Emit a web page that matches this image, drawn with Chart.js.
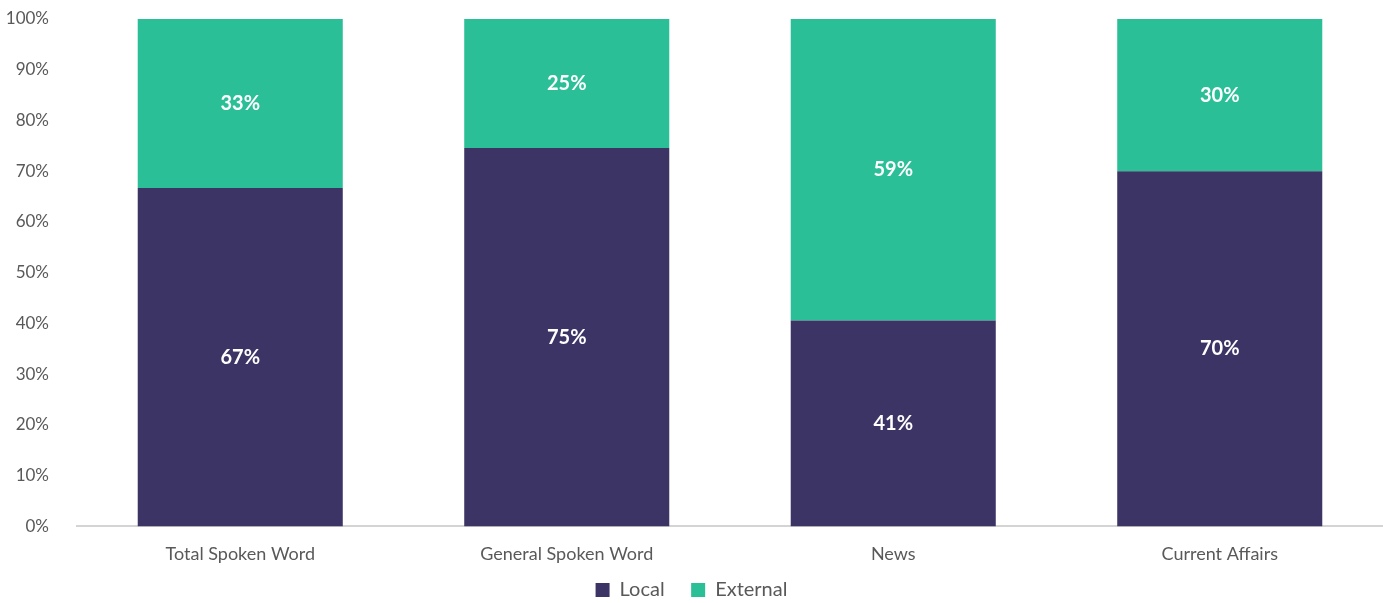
<!DOCTYPE html>
<html>
<head>
<meta charset="utf-8">
<script src="https://cdn.jsdelivr.net/npm/chart.js@4/dist/chart.umd.min.js"></script>
<style>
  html, body { margin: 0; padding: 0; background: #fff; }
  #wrap { width: 1383px; height: 603px; position: relative; }
</style>
</head>
<body>
<div id="wrap"><canvas id="chart"></canvas></div>
<script>
const categories = ["Total Spoken Word", "General Spoken Word", "News", "Current Affairs"];
const localValues = [66.7, 74.6, 40.6, 70.0];
const externalValues = [33.3, 25.4, 59.4, 30.0];
const yTicks = [0, 10, 20, 30, 40, 50, 60, 70, 80, 90, 100];

// draws the % inside each segment
const segmentLabels = {
  id: "segmentLabels",
  afterDatasetsDraw(chart) {
    const ctx = chart.ctx;
    ctx.save();
    ctx.fillStyle = "#ffffff";
    ctx.font = "bold 20px Lato, 'Open Sans', sans-serif";
    ctx.textAlign = "center";
    ctx.textBaseline = "middle";
    chart.data.datasets.forEach((ds, i) => {
      chart.getDatasetMeta(i).data.forEach((bar, j) => {
        const p = bar.getProps(["x", "y", "base"], true);
        ctx.fillText(Math.round(ds.data[j]) + "%", p.x, (p.y + p.base) / 2);
      });
    });
    ctx.restore();
  }
};

const ctx = document.getElementById("chart").getContext("2d");
new Chart(ctx, {
  type: "bar",
  data: {
    labels: categories,
    datasets: [
      {
        label: "Local",
        data: localValues,
        backgroundColor: "#3d3466",
        categoryPercentage: 1,
        barPercentage: 0.628
      },
      {
        label: "External",
        data: externalValues,
        backgroundColor: "#2bbf98",
        categoryPercentage: 1,
        barPercentage: 0.628
      }
    ]
  },
  options: {
    responsive: true,
    maintainAspectRatio: false,
    animation: false,
    layout: { padding: { top: 19, right: 0, bottom: -7, left: 0 } },
    scales: {
      x: {
        stacked: true,
        grid: { display: false },
        border: { color: "#d4d4d4", width: 2 },
        ticks: {
          color: "#595959",
          font: { family: "Lato, 'Open Sans', sans-serif", size: 18 },
          padding: 9
        }
      },
      y: {
        stacked: true,
        min: 0,
        max: 100,
        grid: { display: false },
        border: { display: false },
        afterFit(scale) {
          scale.width = 77;
          scale.paddingTop = 0;
          scale.paddingBottom = 0;
        },
        afterBuildTicks(scale) { scale.ticks = yTicks.map(v => ({ value: v })); },
        ticks: {
          color: "#595959",
          padding: 20,
          font: { family: "Lato, 'Open Sans', sans-serif", size: 17 },
          callback: v => v + "%"
        }
      }
    },
    plugins: {
      legend: {
        position: "bottom",
        labels: {
          boxWidth: 14,
          boxHeight: 14,
          padding: 6,
          color: "#595959",
          font: { family: "Lato, 'Open Sans', sans-serif", size: 20 },
          generateLabels(chart) {
            // extra trailing space widens the gap between items
            return Chart.defaults.plugins.legend.labels.generateLabels(chart)
              .map((item, i, all) => (i < all.length - 1 ? { ...item, text: item.text + "    " } : item));
          }
        }
      },
      tooltip: { enabled: false }
    }
  },
  plugins: [segmentLabels]
});
</script>
</body>
</html>
